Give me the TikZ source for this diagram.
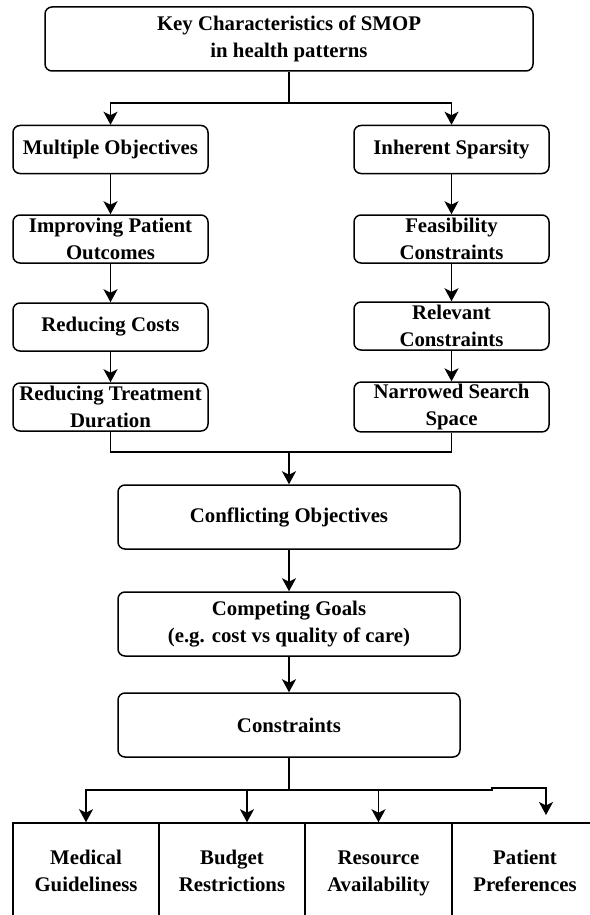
\documentclass[tikz,border=0pt]{standalone}
\usepackage{fontspec}
\setmainfont{Liberation Serif}
\usetikzlibrary{arrows.meta}
\tikzset{
	box/.style={draw, line width=1.5pt, rounded corners=7pt, align=center, inner sep=2pt,
		font=\fontsize{20.8}{27}\selectfont\bfseries},
	sidebox/.style={box, minimum width=195pt, minimum height=48pt},
	midbox/.style={box, minimum width=342pt, minimum height=64pt},
	leafbox/.style={box, rounded corners=0pt, minimum width=146pt, minimum height=101pt,
		execute at end node=\vphantom{y}},
	arr/.style={line width=1.5pt, -{Stealth[length=13pt,width=14pt,inset=3.5pt]}},
	con/.style={line width=1.5pt}
}

\begin{document}
\begin{tikzpicture}[x=1pt, y=-1pt]
		%%%%% START %%%%%
		\useasboundingbox (0, 0) rectangle (589, 915);
		
		\node[box, minimum width=488pt, minimum height=64pt] (top) at (289, 39) {Key Characteristics of SMOP\\in health patterns};
		
		% left column
		\node[sidebox] (mobj) at (110.5, 149.5) {Multiple Objectives};
		\node[sidebox] (impr) at (110.5, 239) {Improving Patient\\Outcomes};
		\node[sidebox] (cost) at (110.5, 327) {Reducing Costs};
		\node[sidebox] (dur) at (110.5, 407) {Reducing Treatment\\Duration};
		
		% right column
		\node[sidebox] (spar) at (451.5, 149.5) {Inherent Sparsity};
		\node[sidebox] (feas) at (451.5, 239) {Feasibility\\Constraints};
		\node[sidebox] (relc) at (451.5, 326) {Relevant\\Constraints};
		\node[sidebox] (narr) at (451.5, 407) {Narrowed Search\\Space};
		
		\node[midbox] (confl) at (289, 517) {Conflicting Objectives};
		\node[midbox] (comp) at (289, 624) {Competing Goals\\(e.g. cost vs quality of care)};
		\node[midbox] (cons) at (289, 725) {Constraints};
		
		\node[leafbox] (med) at (86, 873.5) {Medical\\Guideliness};
		\node[leafbox] (bgt) at (232, 873.5) {Budget\\Restrictions};
		\node[leafbox, minimum width=147pt] (res) at (378.5, 873.5) {Resource\\Availability};
		\node[leafbox] (pat) at (525, 873.5) {Patient\\Preferences};
		
		\coordinate (tsplit) at (289, 103);
		\coordinate (merge) at (289, 452);
		\coordinate (csplit) at (289, 790);
		\coordinate (bgtin) at (247, 790);
		\coordinate (jogA) at (492, 790);
		\coordinate (jogB) at (492, 788);
		\coordinate (patin) at (546, 788);
		\coordinate (pattip) at (546, 815);
		
		\draw[con] (top.south) -- (tsplit);
		\draw[arr] (tsplit) -| (mobj.north);
		\draw[arr] (tsplit) -| (spar.north);
		
		\draw[arr] (mobj) -- (impr);
		\draw[arr] (impr) -- (cost);
		\draw[arr] (cost) -- (dur);
		\draw[arr] (spar) -- (feas);
		\draw[arr] (feas) -- (relc);
		\draw[arr] (relc) -- (narr);
		
		\draw[con] (dur.south) |- (merge);
		\draw[con] (narr.south) |- (merge);
		\draw[arr] (merge) -- (confl.north);
		\draw[arr] (confl) -- (comp);
		\draw[arr] (comp) -- (cons);
		
		\draw[con] (cons.south) -- (csplit);
		\draw[arr] (csplit) -| (med.north);
		\draw[arr] (bgtin) -- (bgtin |- bgt.north);
		\draw[arr] (csplit) -| (res.north);
		\draw[arr] (csplit) -- (jogA) -- (jogB) -- (patin) -- (pattip);
		%%%%% END %%%%%
\end{tikzpicture}
\end{document}
